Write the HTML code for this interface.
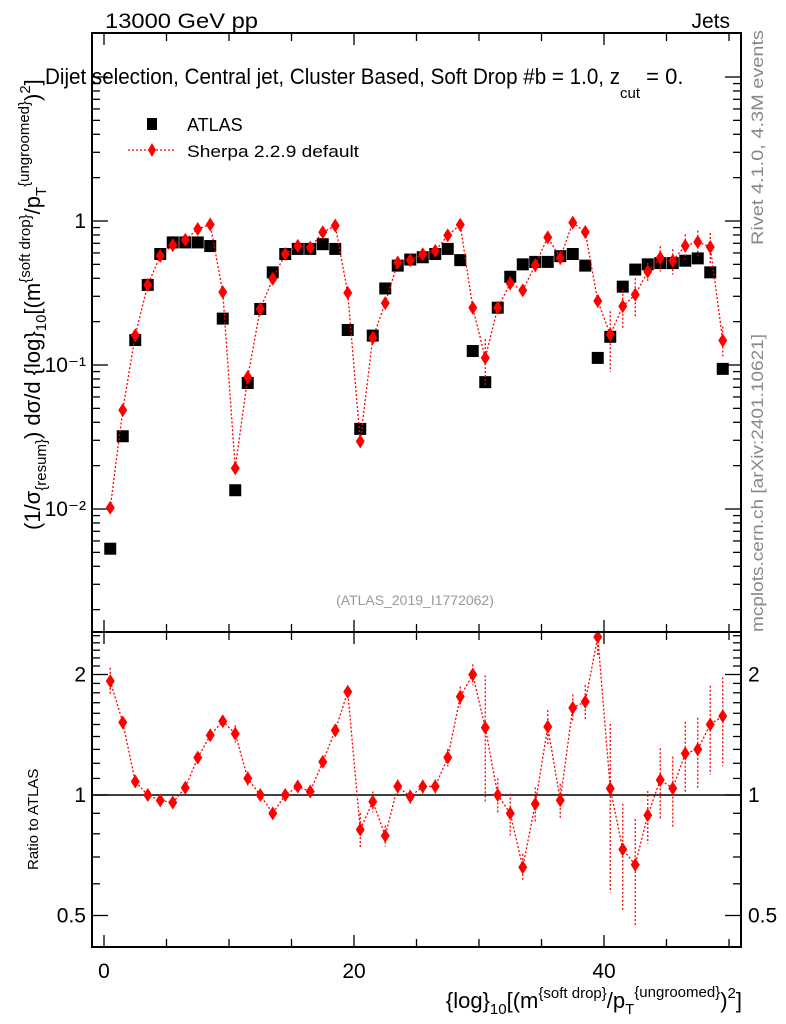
<!DOCTYPE html>
<html><head><meta charset="utf-8"><style>
body{margin:0;background:#fff;}
svg{display:block;font-family:"Liberation Sans",sans-serif;}
</style></head><body>
<svg id="chart" width="786" height="1024" viewBox="0 0 786 1024">
<rect x="0" y="0" width="786" height="1024" fill="#fff"/>
<g id="ticks"></g>
<g id="marks"></g>
<rect x="92" y="33" width="649" height="599" fill="none" stroke="#000" stroke-width="2"/>
<rect x="92" y="632" width="649" height="315" fill="none" stroke="#000" stroke-width="2"/>
<text x="105" y="28" font-size="21" textLength="153" lengthAdjust="spacingAndGlyphs">13000 GeV pp</text>
<text x="730" y="28" font-size="21" text-anchor="end">Jets</text>
<text x="45" y="84" font-size="22"><tspan textLength="575" lengthAdjust="spacingAndGlyphs">Dijet selection, Central jet, Cluster Based, Soft Drop #b = 1.0, z</tspan><tspan font-size="15" dy="14">cut</tspan><tspan dy="-14"> = 0.</tspan></text>
<g>
<rect x="147" y="118" width="10" height="12" fill="#000"/>
<text x="187" y="131" font-size="18">ATLAS</text>
<line x1="128" y1="150" x2="176" y2="150" stroke="red" stroke-dasharray="2,2" stroke-width="1.3"/>
<polygon points="152,143 156,150 152,157 148,150" fill="red"/>
<text x="187" y="157" font-size="17" textLength="172" lengthAdjust="spacingAndGlyphs">Sherpa 2.2.9 default</text>
</g>
<text x="415" y="605" font-size="14" fill="#999" text-anchor="middle">(ATLAS_2019_I1772062)</text>
<text transform="translate(763,245) rotate(-90)" font-size="17" fill="#888" textLength="215" lengthAdjust="spacingAndGlyphs">Rivet 4.1.0,  4.3M events</text>
<text transform="translate(763,632) rotate(-90)" font-size="17" fill="#888" textLength="298" lengthAdjust="spacingAndGlyphs">mcplots.cern.ch [arXiv:2401.10621]</text>
<text transform="translate(40,530) rotate(-90)" font-size="22">(1/σ<tspan font-size="15" dy="6">{resum}</tspan><tspan dy="-6">) dσ/d {log}</tspan><tspan font-size="15" dy="6">10</tspan><tspan dy="-6">[(m</tspan><tspan font-size="15" dy="-10">{soft drop}</tspan><tspan dy="10">/p</tspan><tspan font-size="15" dy="6">T</tspan><tspan font-size="15" dy="-17">{ungroomed}</tspan><tspan dy="11">)</tspan><tspan font-size="15" dy="-10">2</tspan><tspan dy="10">]</tspan></text>
<text transform="translate(38,870) rotate(-90)" font-size="15">Ratio to ATLAS</text>
<text x="742" y="1008" font-size="22" text-anchor="end">{log}<tspan font-size="15" dy="6">10</tspan><tspan dy="-6">[(m</tspan><tspan font-size="15" dy="-10">{soft drop}</tspan><tspan dy="10">/p</tspan><tspan font-size="15" dy="6">T</tspan><tspan font-size="15" dy="-17">{ungroomed}</tspan><tspan dy="11">)</tspan><tspan font-size="15" dy="-10">2</tspan><tspan dy="10">]</tspan></text>
</svg>
<script>
const atlas=[0.0053,0.032,0.149,0.36,0.59,0.71,0.71,0.71,0.67,0.21,0.0135,0.075,0.245,0.44,0.59,0.64,0.64,0.69,0.64,0.175,0.036,0.16,0.34,0.49,0.54,0.56,0.59,0.64,0.535,0.125,0.076,0.25,0.41,0.50,0.52,0.52,0.57,0.59,0.49,0.112,0.157,0.35,0.46,0.50,0.51,0.51,0.53,0.55,0.44,0.094];
const sherpa=[0.0102,0.0486,0.161,0.36,0.572,0.68,0.74,0.88,0.945,0.321,0.0192,0.0825,0.245,0.396,0.59,0.672,0.653,0.835,0.928,0.317,0.0295,0.154,0.269,0.515,0.535,0.588,0.62,0.794,0.942,0.25,0.112,0.25,0.369,0.33,0.494,0.77,0.553,0.974,0.838,0.278,0.163,0.256,0.308,0.445,0.556,0.53,0.673,0.715,0.66,0.148];
const relErr=[0.08,0.03,0.03,0.02,0.02,0.02,0.02,0.02,0.02,0.03,0.05,0.04,0.03,0.03,0.02,0.02,0.02,0.02,0.02,0.03,0.1,0.06,0.06,0.04,0.04,0.04,0.04,0.05,0.06,0.06,0.35,0.1,0.12,0.08,0.1,0.1,0.1,0.08,0.1,0.1,0.45,0.3,0.3,0.15,0.2,0.2,0.2,0.2,0.25,0.25];
const xTickLabels=[0,20,40];
const yTickLabels=["10⁻²","10⁻¹","1"];
const rTickLabels=[0.5,1,2];
const NS='http://www.w3.org/2000/svg';
const X=v=>104+12.5*v;
const Y=v=>221-144*Math.log10(v);
const R=v=>795-120.5*Math.log2(v);
const tg=document.getElementById('ticks'), mg=document.getElementById('marks');
function mk(tag,a,p){const e=document.createElementNS(NS,tag);for(const k in a)e.setAttribute(k,a[k]);p.appendChild(e);return e;}
for(let v=0;v<=50;v+=5){
 const big=v%20===0;
 [[33,1],[632,-1],[632,1],[947,-1]].forEach(([y0,d])=>{
  const l=mk('line',{x1:X(v),x2:X(v),y1:y0,y2:y0+d*(big?12:8),stroke:'#000','stroke-width':1.3},tg);
  
  
 });
}
xTickLabels.forEach(v=>{const t=mk('text',{x:X(v),y:978,'font-size':21,'text-anchor':'middle'},tg);t.textContent=v;
 
 });
for(let e=-3;e<=1;e++){for(let m=1;m<10;m++){const v=m*Math.pow(10,e);const y=Y(v);if(y<34||y>631)continue;
 const len=m===1?16:8;
 [[92,1],[741,-1]].forEach(([x0,d])=>{const l=mk('line',{x1:x0,x2:x0+d*len,y1:y,y2:y,stroke:'#000','stroke-width':1.3},tg);
 
 });}}
[0.01,0.1,1].forEach((v,i)=>{const t=mk('text',{x:86,y:Y(v)+7,'font-size':21,'text-anchor':'end'},tg);t.textContent=yTickLabels[i];
 
 });
for(let v=0.4;v<=2.6;v+=0.1){const y=R(v);if(y<633||y>946)continue;const maj=rTickLabels.some(r=>Math.abs(r-v)<1e-6);
 [[92,1],[741,-1]].forEach(([x0,d])=>{const l=mk('line',{x1:x0,x2:x0+d*(maj?16:8),y1:y,y2:y,stroke:'#000','stroke-width':1.3},tg);
 
 });}
rTickLabels.forEach(v=>{[[86,'end'],[748,'start']].forEach(([x,a])=>{const t=mk('text',{x:x,y:R(v)+7,'font-size':21,'text-anchor':a},tg);t.textContent=v;
 
 });});
const ref=mk('line',{x1:92,x2:741,y1:R(1),y2:R(1),stroke:'#000','stroke-width':1.5},mg);


atlas.forEach((v,i)=>{const r=mk('rect',{x:X(i+0.5)-6,y:Y(v)-6,width:12,height:12,fill:'#000'},mg);
 
 });
const pts=sherpa.map((v,i)=>X(i+0.5)+','+Y(v)).join(' ');
const pl=mk('polyline',{points:pts,fill:'none',stroke:'red','stroke-width':1.3,'stroke-dasharray':'2,2'},mg);


const ratio=sherpa.map((v,i)=>v/atlas[i]);
const rpts=ratio.map((v,i)=>X(i+0.5)+','+R(v)).join(' ');
const rl=mk('polyline',{points:rpts,fill:'none',stroke:'red','stroke-width':1.3,'stroke-dasharray':'2,2'},mg);


function dia(x,y,name){const p=mk('polygon',{points:`${x},${y-7} ${x+4.5},${y} ${x},${y+7} ${x-4.5},${y}`,fill:'red'},mg);
 
 }
sherpa.forEach((v,i)=>{const x=X(i+0.5);const e=relErr[i];
 const eb=mk('line',{x1:x,x2:x,y1:Y(v*(1+e)),y2:Y(Math.max(v*(1-e),1e-4)),stroke:'red','stroke-width':1.3,'stroke-dasharray':'2,2'},mg);
 
 
 dia(x,Y(v),'sherpa-point');});
ratio.forEach((v,i)=>{const x=X(i+0.5);const e=relErr[i];
 const y1=Math.max(R(v*(1+e)),633),y2=Math.min(R(v*(1-e)),946);
 const eb=mk('line',{x1:x,x2:x,y1:y1,y2:y2,stroke:'red','stroke-width':1.3,'stroke-dasharray':'2,2'},mg);
 
 
 if(R(v)>630) dia(x,R(v),'ratio-point');});
</script>
</body></html>
